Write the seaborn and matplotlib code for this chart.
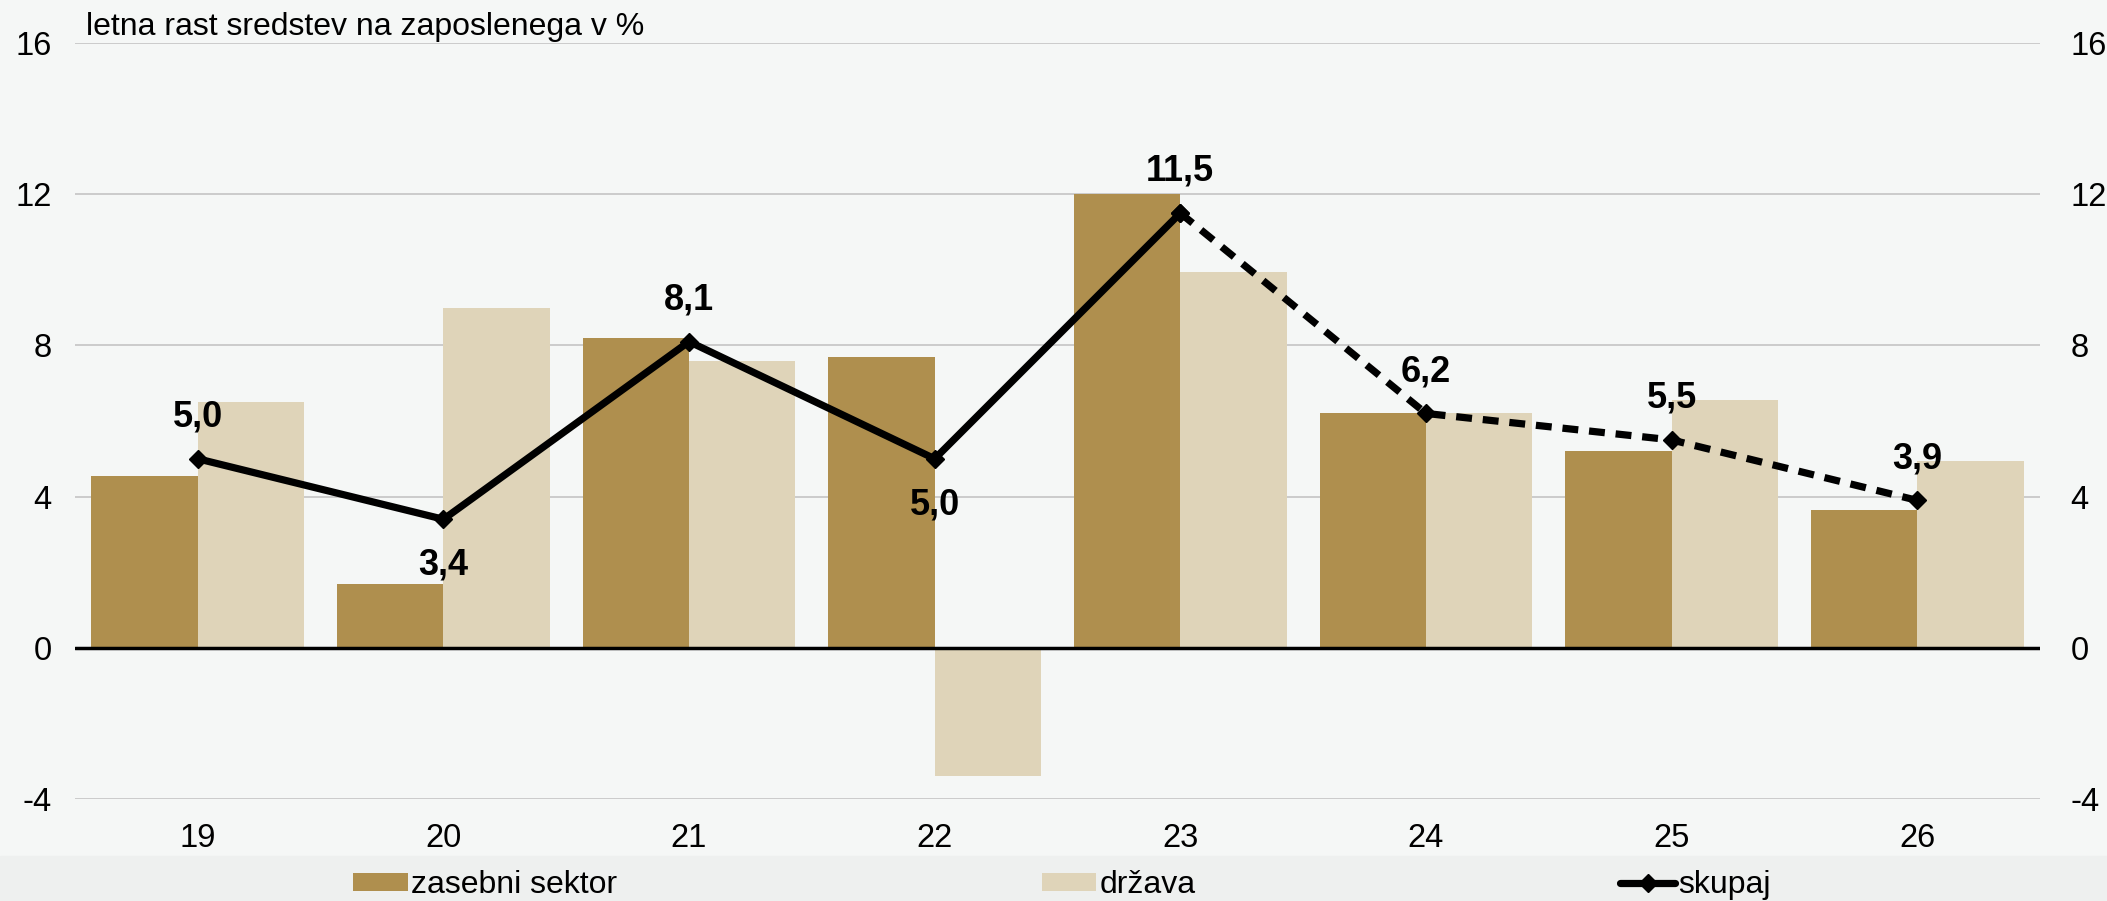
import numpy as np
import pandas as pd
import matplotlib
matplotlib.use('Agg')
import matplotlib.pyplot as plt
import seaborn as sns
from matplotlib.patches import Patch, Rectangle
from matplotlib.lines import Line2D

# ---- data ----
years = ['19', '20', '21', '22', '23', '24', '25', '26']
zasebni = [4.55, 1.7, 8.2, 7.7, 12.0, 6.2, 5.2, 3.65]
drzava = [6.5, 9.0, 7.6, -3.4, 9.95, 6.2, 6.55, 4.95]
skupaj = [5.0, 3.4, 8.1, 5.0, 11.5, 6.2, 5.5, 3.9]
label_below = [False, True, False, True, False, False, False, False]
yticks = [-4, 0, 4, 8, 12, 16]
title = 'letna rast sredstev na zaposlenega v %'
series_names = ['zasebni sektor', 'država', 'skupaj']
n_actual = 5  # solid line up to year 23, dashed afterwards

sns.set_theme(style='white')
plt.rcParams['font.family'] = ['Liberation Sans', 'DejaVu Sans']
plt.rcParams['axes.unicode_minus'] = False
plt.rcParams['text.color'] = 'black'
plt.rcParams['xtick.color'] = 'black'
plt.rcParams['ytick.color'] = 'black'
plt.rcParams['xtick.labelcolor'] = 'black'
plt.rcParams['ytick.labelcolor'] = 'black'

W, H = 2107, 901
fig = plt.figure(figsize=(W / 100, H / 100), dpi=100, facecolor='#F5F7F6')
fig.patches.append(Rectangle((0, 0), 1, 1 - 856 / H, transform=fig.transFigure,
                             color='#EEF0EF', zorder=-10))

ax = fig.add_axes([75 / W, 1 - 799 / H, (2040 - 75) / W, (799 - 43) / H])
ax.set_facecolor('none')

df = pd.DataFrame({
    'leto': years * 2,
    'vrednost': zasebni + drzava,
    'serija': [series_names[0]] * len(years) + [series_names[1]] * len(years),
})
sns.barplot(data=df, x='leto', y='vrednost', hue='serija',
            palette=['#AF8F4E', '#DFD4B9'], width=0.866, gap=0, dodge=True,
            saturation=1, ax=ax, legend=False, zorder=2, linewidth=0)

x = np.arange(len(years))
LW = 5.2
ax.plot(x[:n_actual], skupaj[:n_actual], color='black', lw=LW, marker='D',
        ms=9.5, zorder=5)
ax.plot(x[n_actual - 1:], skupaj[n_actual - 1:], color='black', lw=LW,
        ls=(0, (2.2, 1.5)), marker='D', ms=9.5, zorder=5)

for i, v in enumerate(skupaj):
    off = -33 if label_below[i] else 30
    ax.annotate(f'{v:.1f}'.replace('.', ','), (i, v), xytext=(0, off),
                textcoords='offset points', ha='center', va='center',
                fontsize=26, fontweight='bold', color='black', zorder=6)

ax.set_xlim(-0.5, len(years) - 0.5)
ax.set_ylim(-4, 16)
ax.set_yticks(yticks)
ax.set_yticklabels([str(t) for t in yticks], fontsize=23.5)
ax.yaxis.grid(True, color='#C8C8C8', lw=1.3)
ax.set_axisbelow(True)
ax.axhline(0, color='black', lw=2.5, zorder=4)
for s in ax.spines.values():
    s.set_visible(False)
ax.tick_params(axis='y', length=0, pad=17, labelcolor='black')
ax.tick_params(axis='x', length=0, pad=17, labelsize=23.5, labelcolor='black')
ax.set_xlabel('')
ax.set_ylabel('')

ax2 = ax.twinx()
ax2.set_ylim(ax.get_ylim())
ax2.set_yticks(yticks)
ax2.set_yticklabels([str(t) for t in yticks], fontsize=23.5)
ax2.tick_params(axis='y', length=0, pad=22, labelcolor='black')
ax2.grid(False)
for s in ax2.spines.values():
    s.set_visible(False)

fig.text(86 / W, 1 - 35 / H, title, fontsize=23, ha='left', va='baseline',
         color='black')

handles = [
    Patch(facecolor='#AF8F4E', edgecolor='none'),
    Patch(facecolor='#DFD4B9', edgecolor='none'),
    Line2D([0], [0], color='black', lw=LW, marker='D', ms=9.5),
]
leg = fig.legend(handles, series_names, loc='center', bbox_to_anchor=(0.504, 1 - 885 / H),
                 ncol=3, frameon=False, fontsize=23, handlelength=1.7, handleheight=0.5,
                 handletextpad=0.1, columnspacing=13.3, borderaxespad=0)
for t in leg.get_texts():
    t.set_color('black')

fig.savefig('out.png', dpi=100, facecolor=fig.get_facecolor())
